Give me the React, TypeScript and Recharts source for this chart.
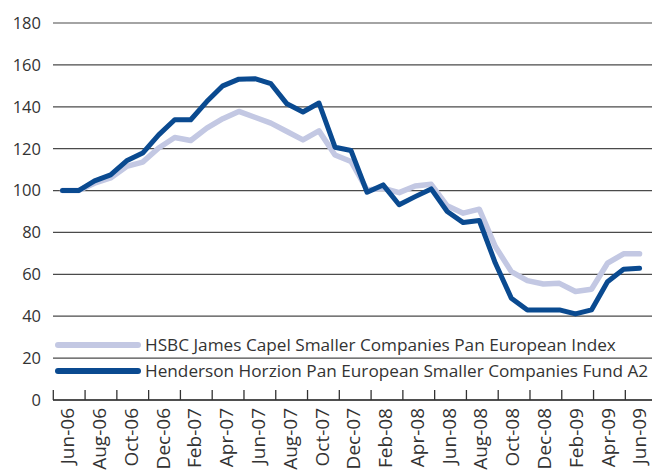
import React from 'react';
import { LineChart, Line, XAxis, YAxis, CartesianGrid, Legend } from 'recharts';

const months = [
  'Jun-06', 'Jul-06', 'Aug-06', 'Sep-06', 'Oct-06', 'Nov-06', 'Dec-06',
  'Jan-07', 'Feb-07', 'Mar-07', 'Apr-07', 'May-07', 'Jun-07', 'Jul-07', 'Aug-07', 'Sep-07', 'Oct-07', 'Nov-07', 'Dec-07',
  'Jan-08', 'Feb-08', 'Mar-08', 'Apr-08', 'May-08', 'Jun-08', 'Jul-08', 'Aug-08', 'Sep-08', 'Oct-08', 'Nov-08', 'Dec-08',
  'Jan-09', 'Feb-09', 'Mar-09', 'Apr-09', 'May-09', 'Jun-09',
];

const hsbcIndex = [
  100, 100, 103.5, 106, 111.5, 113.6, 120.3,
  125.3, 123.9, 129.8, 134.3, 137.8, 135, 132.2, 128.2, 124.2, 128.5, 117, 113.9,
  100.3, 101.1, 99, 102.2, 103, 92.7, 89.2, 91.1, 73.3, 61.3, 57, 55.4,
  55.7, 51.8, 52.9, 65.3, 69.8, 69.8,
];

const hendersonFund = [
  100, 100, 104.6, 107.5, 114.2, 117.9, 126.6,
  133.8, 133.8, 142.5, 150, 153.2, 153.4, 151, 141.4, 137.5, 141.8, 120.7, 119.1,
  99.2, 102.7, 93.2, 97.1, 100.8, 90, 84.7, 85.7, 65.4, 48.6, 43, 43,
  43, 41.1, 43, 56.5, 62.4, 62.9,
];

const tickLabels = [
  'Jun-06', 'Aug-06', 'Oct-06', 'Dec-06', 'Feb-07', 'Apr-07', 'Jun-07', 'Aug-07', 'Oct-07',
  'Dec-07', 'Feb-08', 'Apr-08', 'Jun-08', 'Aug-08', 'Oct-08', 'Dec-08', 'Feb-09', 'Apr-09', 'Jun-09',
];

const yTicks = [0, 20, 40, 60, 80, 100, 120, 140, 160, 180];

const seriesNames = {
  hsbc: 'HSBC James Capel Smaller Companies Pan European Index',
  henderson: 'Henderson Horzion Pan European Smaller Companies Fund A2',
};

const data = months.map((m, i) => ({
  i,
  month: m,
  hsbc: hsbcIndex[i],
  henderson: hendersonFund[i],
}));

// layout constants
const X_MIN = -0.5926;
const X_MAX = 36.775;
const TICK_START = -0.574;
const TICK_STEP = 1.9825;
const tickPositions = tickLabels.map((_, k) => TICK_START + k * TICK_STEP);

const FONT = '"Open Sans", "Noto Sans", sans-serif';
const TEXT = '#333333';
const DARK = '#0a4a90';
const LIGHT = '#c3c8e3';
const AXIS_Y = 400;

const XTick = (props: any) => {
  const { x, payload } = props;
  const k = Math.round((payload.value - TICK_START) / TICK_STEP);
  const label = tickLabels[k] ?? '';
  return (
    <g>
      <line x1={x} y1={AXIS_Y} x2={x} y2={AXIS_Y - 10} stroke="#333" strokeWidth={1.3} />
      <text
        transform={`translate(${x + 21}, ${AXIS_Y + 8}) rotate(-90)`}
        textAnchor="end"
        fontSize={19}
        fontFamily={FONT}
        fill={TEXT}
      >
        {label}
      </text>
    </g>
  );
};

const LegendContent = (props: any) => {
  const { payload } = props;
  return (
    <div style={{ fontFamily: FONT, fontSize: 17.2, color: TEXT }}>
      {(payload || []).map((entry: any) => (
        <div
          key={entry.value}
          style={{ display: 'flex', alignItems: 'center', height: 25.7, whiteSpace: 'nowrap' }}
        >
          <svg width={90} height={10} style={{ display: 'block' }}>
            <line x1={3} y1={5} x2={83} y2={5} stroke={entry.color} strokeWidth={6} strokeLinecap="round" />
          </svg>
          <span style={{ lineHeight: '25.7px' }}>{entry.value}</span>
        </div>
      ))}
    </div>
  );
};

export default function App() {
  return (
    <div style={{ position: 'absolute', left: 0, top: 0, width: 652, height: 472, background: '#fff' }}>
      <LineChart
        width={652}
        height={472}
        data={data}
        margin={{ top: 23, right: 0, left: 0, bottom: 0 }}
      >
        <CartesianGrid vertical={false} stroke="#4a4a4a" strokeWidth={1.2} />
        <XAxis
          dataKey="i"
          type="number"
          domain={[X_MIN, X_MAX]}
          allowDataOverflow
          ticks={tickPositions}
          interval={0}
          tick={<XTick />}
          tickLine={false}
          tickSize={0}
          tickMargin={0}
          axisLine={{ stroke: '#333', strokeWidth: 1.5 }}
          height={72}
        />
        <YAxis
          domain={[0, 180]}
          ticks={yTicks}
          interval={0}
          axisLine={false}
          tickLine={false}
          tickSize={0}
          tickMargin={12}
          width={53}
          tick={{ fontSize: 16.5, fontFamily: FONT, fill: TEXT }}
        />
        <Legend
          layout="vertical"
          align="center"
          verticalAlign="middle"
          content={<LegendContent />}
          wrapperStyle={{ position: 'absolute', left: 55, top: 332, width: 'auto', height: 'auto' }}
        />
        <Line
          type="linear"
          dataKey="hsbc"
          name={seriesNames.hsbc}
          stroke={LIGHT}
          strokeWidth={5.5}
          dot={false}
          activeDot={false}
          strokeLinejoin="round"
          strokeLinecap="round"
          isAnimationActive={false}
        />
        <Line
          type="linear"
          dataKey="henderson"
          name={seriesNames.henderson}
          stroke={DARK}
          strokeWidth={5}
          dot={false}
          activeDot={false}
          strokeLinejoin="round"
          strokeLinecap="round"
          isAnimationActive={false}
        />
      </LineChart>
    </div>
  );
}
